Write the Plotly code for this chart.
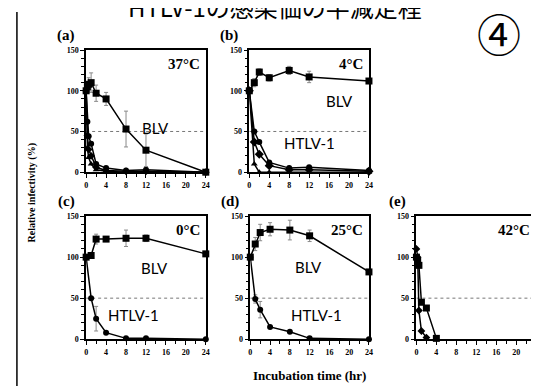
import plotly.graph_objects as go

# ---------------- data ----------------
HALF = 50
X_TICKS = [0, 4, 8, 12, 16, 20, 24]
Y_TICKS = [0, 50, 100, 150]

# (a) 37 C
a_time = [0, 0.25, 0.5, 1, 2, 4, 8, 12, 24]
a_blv = [100, 105, 108, 110, 97, 90, 53, 27, 0]
a_blv_err = [0, 5, 8, 12, 10, 8, 22, 20, 0]
a_htlv_circle = [100, 62, 44, 35, 10, 5, 2, 3, 0]
a_htlv_diamond = [100, 45, 28, 20, 6, 2, 1, 1, 0]
a_htlv_triangle = [100, 30, 18, 10, 3, 1, 0, 0, 0]

# (b) 4 C
b_time = [0, 1, 2, 4, 8, 12, 24]
b_blv = [100, 110, 123, 116, 125, 117, 112]
b_blv_err = [0, 5, 4, 4, 5, 7, 0]
b_htlv_circle = [100, 50, 37, 12, 5, 6, 2]
b_htlv_diamond = [100, 37, 22, 8, 3, 3, 1]
b_htlv_triangle = [100, 10, 0, 0, 0, 0, 0]

# (c) 0 C
c_time = [0, 1, 2, 4, 8, 12, 24]
c_blv = [100, 102, 122, 122, 123, 123, 104]
c_blv_err = [0, 0, 6, 3, 10, 4, 0]
c_htlv = [100, 50, 25, 8, 1, 1, 0]
c_htlv_err = [0, 0, 15, 0, 0, 0, 0]

# (d) 25 C
d_time = [0, 1, 2, 4, 8, 12, 24]
d_blv = [100, 116, 130, 134, 133, 126, 82]
d_blv_err = [0, 8, 10, 8, 12, 7, 0]
d_htlv = [100, 49, 36, 15, 9, 1, 0]
d_htlv_err = [0, 5, 10, 0, 0, 0, 0]

# (e) 42 C
e_blv_time = [0, 0.25, 0.5, 1, 2, 4]
e_blv = [100, 95, 90, 45, 38, 1]
e_htlv_time = [0, 0.25, 0.5, 1, 2]
e_htlv = [110, 100, 35, 10, 2]

PANEL_LABELS = ["(a)", "(b)", "(c)", "(d)", "(e)"]
TEMPS = ["37°C", "4°C", "0°C", "25°C", "42°C"]
TITLE = "HTLV-1の感染価の半減定程"

# ---------------- figure ----------------
W, H = 539, 386
fig = go.Figure()

def px_x(p):
    return p / W

def px_y(p):
    return 1 - p / H

# pixel boxes (left, right, top, bottom)
boxes = [
    (77, 198, 39, 164),
    (242, 363, 39, 164),
    (77, 198, 209, 335),
    (243, 363, 209, 335),
    (411, 532, 209, 335),
]

def add_series(i, x, y, symbol, size, err=None):
    ax = "" if i == 0 else str(i + 1)
    kw = {}
    if err is not None:
        kw["error_y"] = dict(type="data", array=err, visible=True,
                             color="#8a8a8a", thickness=1, width=2)
    fig.add_trace(go.Scatter(
        x=x, y=y, mode="lines+markers", xaxis="x" + ax, yaxis="y" + ax,
        line=dict(color="black", width=1.5),
        marker=dict(symbol=symbol, size=size, color="black"),
        cliponaxis=False, showlegend=False, **kw))

add_series(0, a_time, a_htlv_triangle, "triangle-up", 6)
add_series(0, a_time, a_htlv_diamond, "diamond", 6)
add_series(0, a_time, a_htlv_circle, "circle", 6)
add_series(0, a_time, a_blv, "square", 7, a_blv_err)

add_series(1, b_time, b_htlv_triangle, "triangle-up", 6)
add_series(1, b_time, b_htlv_diamond, "diamond", 7)
add_series(1, b_time, b_htlv_circle, "circle", 6)
add_series(1, b_time, b_blv, "square", 7, b_blv_err)

add_series(2, c_time, c_htlv, "circle", 6, c_htlv_err)
add_series(2, c_time, c_blv, "square", 7, c_blv_err)

add_series(3, d_time, d_htlv, "circle", 6, d_htlv_err)
add_series(3, d_time, d_blv, "square", 7, d_blv_err)

add_series(4, e_htlv_time, e_htlv, "diamond", 6)
add_series(4, e_blv_time, e_blv, "square", 7)

tickfont = dict(family="Liberation Serif", size=8, color="black", weight="bold")
layout = dict(
    width=W, height=H, margin=dict(l=0, r=0, t=0, b=0),
    paper_bgcolor="white", plot_bgcolor="white", showlegend=False,
)
shapes = []
annotations = []
for i, (l, r, t, b) in enumerate(boxes):
    ax = "" if i == 0 else str(i + 1)
    layout["xaxis" + ax] = dict(
        domain=[px_x(l), px_x(r)], range=[0, 24], anchor="y" + ax,
        tickmode="array", tickvals=X_TICKS, ticktext=[str(v) for v in X_TICKS],
        showline=True, mirror=True, linecolor="black", linewidth=1.5,
        ticks="outside", ticklen=4, tickwidth=1, tickcolor="black",
        minor=dict(dtick=2, ticks="outside", ticklen=3, tickcolor="black"),
        showgrid=False, zeroline=False, tickfont=tickfont,
    )
    layout["yaxis" + ax] = dict(
        domain=[px_y(b), px_y(t)], range=[0, 150], anchor="x" + ax,
        tickmode="array", tickvals=Y_TICKS, ticktext=[str(v) for v in Y_TICKS],
        showline=True, mirror=True, linecolor="black", linewidth=1.5,
        ticks="outside", ticklen=4, tickwidth=1, tickcolor="black",
        minor=dict(dtick=10, ticks="outside", ticklen=3, tickcolor="black"),
        showgrid=False, zeroline=False, tickfont=tickfont,
    )
    shapes.append(dict(type="line", xref="x" + ax, yref="y" + ax,
                       x0=0, x1=24, y0=HALF, y1=HALF, layer="below",
                       line=dict(color="#777", width=1, dash="dot")))
    annotations.append(dict(text=PANEL_LABELS[i], xref="paper", yref="paper",
                            x=px_x(l - 9), y=px_y(t - 4), xanchor="right", yanchor="bottom",
                            showarrow=False,
                            font=dict(family="Liberation Serif", size=15, color="black", weight="bold")))
    annotations.append(dict(text=TEMPS[i], xref="x" + ax + " domain", yref="y" + ax,
                            x=0.97, y=133, xanchor="right", yanchor="middle", showarrow=False,
                            font=dict(family="Liberation Serif", size=15, color="black", weight="bold")))

sans = dict(family="Lato", size=15, color="black")
text_marks = [
    ("BLV", "x", "y", 14, 54),
    ("BLV", "x2", "y2", 18, 88),
    ("HTLV-1", "x2", "y2", 12, 36),
    ("BLV", "x3", "y3", 13.8, 87),
    ("HTLV-1", "x3", "y3", 9.4, 29),
    ("BLV", "x4", "y4", 11.8, 88),
    ("HTLV-1", "x4", "y4", 13.4, 29),
]
for txt, xr, yr, xv, yv in text_marks:
    annotations.append(dict(text=txt, xref=xr, yref=yr, x=xv, y=yv, showarrow=False,
                            xanchor="center", yanchor="middle", font=sans))

annotations.append(dict(text="Relative infectivity (%)", xref="paper", yref="paper",
                        x=px_x(22), y=px_y(185), textangle=-90, showarrow=False,
                        xanchor="center", yanchor="middle",
                        font=dict(family="Liberation Serif", size=10, color="black", weight="bold")))
annotations.append(dict(text="Incubation time (hr)", xref="paper", yref="paper",
                        x=px_x(303), y=px_y(372), showarrow=False,
                        xanchor="center", yanchor="middle",
                        font=dict(family="Liberation Serif", size=13, color="black", weight="bold")))
# page heading, cropped at the top edge in the reference
annotations.append(dict(text=TITLE, xref="paper", yref="paper",
                        x=px_x(268), y=px_y(14), showarrow=False,
                        xanchor="center", yanchor="bottom",
                        font=dict(family="Noto Sans CJK JP", size=24, color="black")))
annotations.append(dict(text="④", xref="paper", yref="paper",
                        x=px_x(494), y=px_y(21), showarrow=False,
                        xanchor="center", yanchor="middle",
                        font=dict(family="Noto Sans CJK JP", size=44, color="black")))

shapes.append(dict(type="line", xref="paper", yref="paper",
                   x0=px_x(7), x1=px_x(7), y0=0, y1=1,
                   line=dict(color="black", width=1.5)))

layout["shapes"] = shapes
layout["annotations"] = annotations
fig.update_layout(**layout)
fig.write_html("out.html")
